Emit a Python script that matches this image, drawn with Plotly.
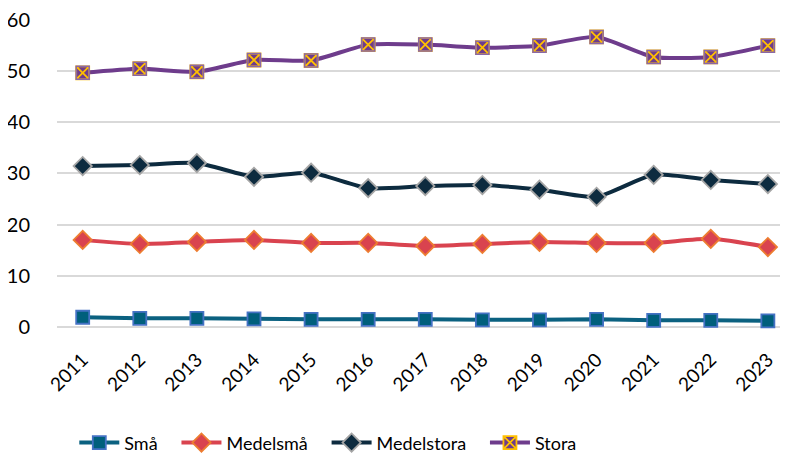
import plotly.graph_objects as go

years = [str(y) for y in range(2011, 2024)]
sma = [1.9, 1.7, 1.7, 1.6, 1.5, 1.5, 1.5, 1.4, 1.4, 1.5, 1.3, 1.3, 1.2]
medelsma = [17.0, 16.2, 16.6, 17.0, 16.4, 16.4, 15.8, 16.2, 16.6, 16.4, 16.4, 17.2, 15.6]
medelstora = [31.4, 31.6, 32.0, 29.3, 30.1, 27.1, 27.5, 27.7, 26.8, 25.4, 29.7, 28.7, 27.9]
stora = [49.6, 50.4, 49.8, 52.1, 52.0, 55.1, 55.1, 54.5, 54.9, 56.6, 52.7, 52.7, 54.9]

FONT = "Lato, Open Sans, sans-serif"
GAP = "\u00a0" * 3

fig = go.Figure()


def add(name, y, line_color, fill, outline, symbol, size):
    fig.add_trace(go.Scatter(
        x=years, y=y, name=name, mode="lines+markers",
        line=dict(color=line_color, width=4, shape="spline", smoothing=0.6),
        marker=dict(symbol=symbol, size=size, color=fill,
                    line=dict(color=outline, width=1.8)),
        cliponaxis=False,
    ))


add("Små" + GAP, sma, "#0b6180", "#005f7c", "#4472c4", "square", 13)
add("Medelsmå" + GAP, medelsma, "#d9434f", "#d9434f", "#ed7d31", "diamond", 14)
add("Medelstora" + GAP, medelstora, "#0d2b3f", "#0d2b3f", "#a5a5a5", "diamond", 14)
add("Stora", stora, "#6e3c8c", "#6e3c8c", "#ffc000", "square-x", 13)
# soft purple edge over the Stora squares
fig.add_trace(go.Scatter(
    x=years, y=stora, mode="markers", showlegend=False, hoverinfo="skip",
    marker=dict(symbol="square-open", size=13, color="#8a67a6",
                line=dict(color="#8a67a6", width=1.5)),
    cliponaxis=False,
))

fig.update_xaxes(
    type="category", range=[-0.45, 12.3], tickangle=-45, automargin=False,
    showgrid=False, showline=False, ticks="", ticklabelstandoff=17,
    tickfont=dict(family=FONT, size=19, color="#000000"),
)
fig.update_yaxes(
    range=[0, 60.1], dtick=10, showgrid=True, gridcolor="#d9d9d9", gridwidth=1.5,
    zeroline=True, zerolinecolor="#d9d9d9", zerolinewidth=1.5, showline=False,
    ticks="", ticklabelstandoff=26, automargin=False, ticklabeloverflow="allow",
    tickfont=dict(family=FONT, size=20, color="#000000"),
)
# page body adds an 8px offset, so the figure is drawn a bit smaller
fig.update_layout(
    width=780, height=446, plot_bgcolor="white", paper_bgcolor="white",
    margin=dict(l=49, r=3, t=11, b=127),
    legend=dict(orientation="h", xref="container", x=0.41, xanchor="center",
                yref="container", y=0.025, yanchor="middle",
                font=dict(family=FONT, size=18, color="#000000"),
                itemwidth=40, tracegroupgap=0),
    showlegend=True,
)

fig.write_html("out.html")
